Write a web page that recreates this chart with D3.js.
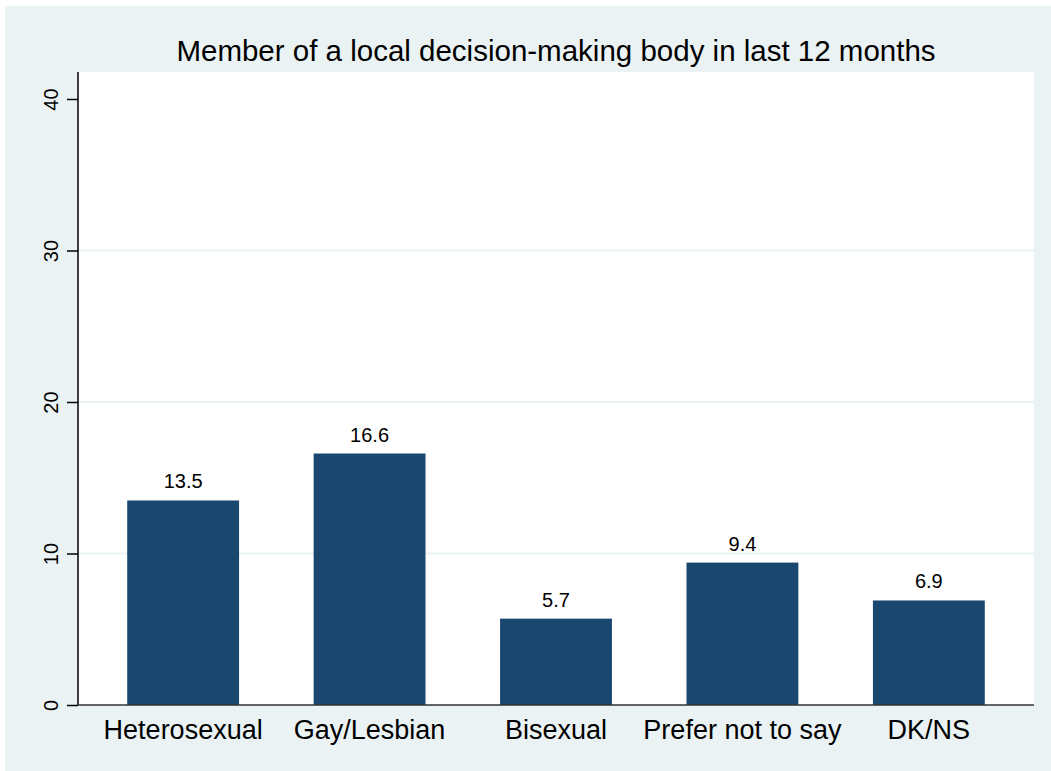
<!DOCTYPE html>
<html>
<head>
<meta charset="utf-8">
<script src="https://cdn.jsdelivr.net/npm/d3@7"></script>
<style>
  body { margin: 0; background: #fff; }
  text { font-family: "Liberation Sans", Arial, sans-serif; fill: #000; }
</style>
</head>
<body>
<div id="chart"></div>
<script>
// data
var categories = ["Heterosexual", "Gay/Lesbian", "Bisexual", "Prefer not to say", "DK/NS"];
var values = [13.5, 16.6, 5.7, 9.4, 6.9];
var yTicks = [0, 10, 20, 30, 40];
var gridTicks = [10, 20, 30];
var title = "Member of a local decision-making body in last 12 months";

var W = 1051, H = 771;
var plot = {left: 78, right: 1034, top: 72, bottom: 705};

var svg = d3.select("#chart").append("svg")
    .attr("width", W)
    .attr("height", H);

// outer stata-ish background
svg.append("rect")
    .attr("x", 5).attr("y", 6)
    .attr("width", W - 5).attr("height", H - 6)
    .attr("fill", "#eaf2f3");

svg.append("rect")
    .attr("x", plot.left).attr("y", plot.top)
    .attr("width", plot.right - plot.left)
    .attr("height", plot.bottom - plot.top)
    .attr("fill", "#fff");

var x = d3.scaleBand()
    .domain(categories)
    .range([plot.left, plot.right])
    .paddingInner(0.4)
    .paddingOuter(0.264);

var y = d3.scaleLinear()
    .domain([0, 40])
    .range([plot.bottom, 99]);

// gridlines
svg.selectAll(".grid")
    .data(gridTicks)
    .enter()
    .append("line")
    .attr("x1", plot.left).attr("x2", plot.right)
    .attr("y1", function(d){ return y(d); })
    .attr("y2", function(d){ return y(d); })
    .attr("stroke", "#eaf2f3")
    .attr("stroke-width", 2);

// bars
svg.selectAll(".bar")
    .data(values)
    .enter()
    .append("rect")
    .attr("x", function(d, i){ return x(categories[i]); })
    .attr("y", function(d){ return y(d); })
    .attr("width", x.bandwidth())
    .attr("height", function(d){ return y(0) - y(d); })
    .attr("fill", "#1a476f");

// value labels
svg.selectAll(".val")
    .data(values)
    .enter()
    .append("text")
    .attr("x", function(d, i){ return x(categories[i]) + x.bandwidth() / 2; })
    .attr("y", function(d){ return y(d) - 12; })
    .attr("text-anchor", "middle")
    .style("font-size", "20px")
    .text(function(d){ return d.toFixed(1); });

// y axis
var yAxis = svg.append("g")
    .attr("transform", "translate(" + plot.left + ",0)")
    .call(d3.axisLeft(y).tickValues(yTicks).tickSize(11).tickPadding(0).tickFormat(d3.format("d")));
yAxis.select(".domain").attr("d", "M0," + plot.top + "V" + plot.bottom).attr("stroke", "#000").attr("stroke-width", 1.5);
yAxis.selectAll(".tick line").attr("stroke", "#000").attr("stroke-width", 1.5);
yAxis.selectAll(".tick text")
    .attr("x", null).attr("dy", null)
    .attr("transform", "translate(-20,0) rotate(-90)")
    .attr("text-anchor", "middle")
    .attr("dominant-baseline", "auto")
    .attr("y", 0)
    .style("font-size", "20px")
    .attr("fill", "#000");

// x axis
svg.append("line")
    .attr("x1", plot.left).attr("x2", plot.right)
    .attr("y1", plot.bottom).attr("y2", plot.bottom)
    .attr("stroke", "#333").attr("stroke-width", 1.5);

svg.selectAll(".xlab")
    .data(categories)
    .enter()
    .append("text")
    .attr("x", function(d){ return x(d) + x.bandwidth() / 2; })
    .attr("y", 739)
    .attr("text-anchor", "middle")
    .style("font-size", "27px")
    .text(function(d){ return d; });

// title
svg.append("text")
    .attr("x", (plot.left + plot.right) / 2)
    .attr("y", 61)
    .attr("text-anchor", "middle")
    .style("font-size", "29.5px")
    .text(title);
</script>
</body>
</html>
